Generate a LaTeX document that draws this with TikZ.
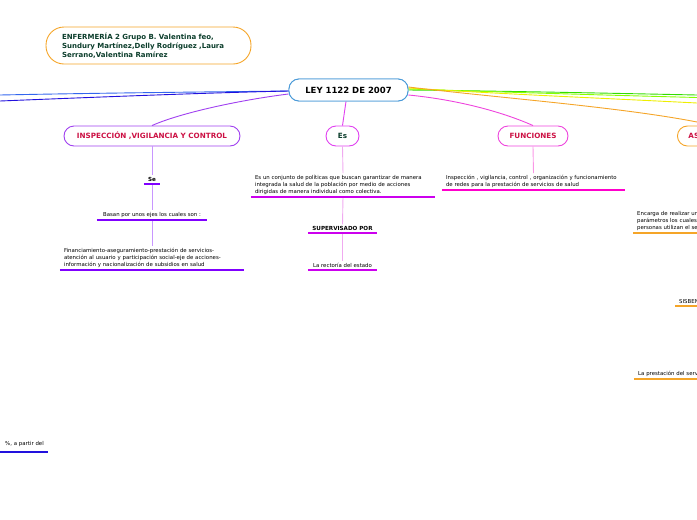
\documentclass[tikz,border=0pt]{standalone}
\usepackage{fontspec}
\setmainfont{DejaVu Sans}
\definecolor{cblue}{RGB}{74,154,216}
\definecolor{corange}{RGB}{245,165,40}
\definecolor{cpurple}{RGB}{160,64,240}
\definecolor{cpurpleul}{RGB}{128,0,255}
\definecolor{cpurplelt}{RGB}{200,150,255}
\definecolor{cmag}{RGB}{224,64,240}
\definecolor{cmagul}{RGB}{204,0,238}
\definecolor{cmaglt}{RGB}{240,170,240}
\definecolor{cpink}{RGB}{238,68,221}
\definecolor{cpinkul}{RGB}{255,0,204}
\definecolor{cpinklt}{RGB}{250,150,230}
\definecolor{ccrimson}{RGB}{204,17,68}
\definecolor{cgreen}{RGB}{11,61,43}
\definecolor{lblue}{RGB}{51,102,238}
\definecolor{dblue}{RGB}{34,17,221}
\definecolor{gr1}{RGB}{51,221,0}
\definecolor{gr2}{RGB}{136,255,0}
\definecolor{yel}{RGB}{238,238,0}
\begin{document}
\begin{tikzpicture}[x=1pt,y=-1pt,
  pill/.style={draw, rounded corners=10pt, line width=0.9pt, minimum height=20pt, inner xsep=6pt, fill=white, font=\fontsize{7.2}{8}\selectfont\bfseries},
  leaf/.style={font=\fontsize{5.4}{7}\selectfont, inner xsep=4pt, inner ysep=2pt},
  leafb/.style={leaf, font=\fontsize{5.6}{7}\selectfont\bfseries},
  ul/.style={line width=1.5pt},
  conn/.style={line width=0.9pt}]
\useasboundingbox (0,0) rectangle (697,520);
\clip (0,0) rectangle (697,520);

% author box
\node[draw=corange, rounded corners=18pt, line width=0.9pt, minimum width=205pt, minimum height=37pt,
      text width=173pt, align=left, inner xsep=16pt, text=cgreen,
      font=\fontsize{7}{9}\selectfont\bfseries] (auth) at (148.5,45.5)
  {ENFERMERÍA 2 Grupo B. Valentina feo,\\Sundury Martínez,Delly Rodríguez ,Laura\\Serrano,Valentina Ramírez};

% free ends of the connectors leaving the picture
\coordinate (L1) at (0,95);
\coordinate (L2) at (0,101);
\coordinate (R1) at (697,95);
\coordinate (R2) at (697,97.5);
\coordinate (R3) at (697,103);
\coordinate (R4) at (697,122);

\node[pill, draw=cblue, minimum width=119pt, minimum height=22pt, font=\fontsize{8.5}{9}\selectfont\bfseries] (c) at (348.5,90) {LEY 1122 DE 2007};

\node[pill, draw=cpurple, text=ccrimson, minimum width=176pt] (insp) at (152,136) {INSPECCIÓN ,VIGILANCIA Y CONTROL};
\node[pill, draw=cmag, text=cgreen, minimum width=33pt] (es) at (342.5,136) {Es};
\node[pill, draw=cpink, text=ccrimson, minimum width=70pt] (fun) at (533,136) {FUNCIONES};
\node[pill, draw=corange, text=ccrimson, inner xsep=11pt, anchor=west] (ase) at (677,136) {ASEGURAMIENTO};

\draw[conn, lblue] ([yshift=-1pt]c.west) .. controls (200,92) and (100,93) .. (L1);
\draw[conn, dblue] ([yshift=-1pt]c.west) .. controls (200,93) and (100,97) .. (L2);
\draw[conn, cpurple] ([yshift=-4pt]c.west) .. controls (240,100) and (180,113) .. (insp.north);
\draw[conn, cmag] (c.south -| 346,0) -- (es.north);
\draw[conn, cpink] ([yshift=-5pt]c.east) .. controls (460,100) and (505,113) .. (fun.north);
\draw[conn, gr1] ([yshift=0pt]c.east) .. controls (500,91) and (600,93) .. (R1);
\draw[conn, gr2] ([yshift=1pt]c.east) .. controls (500,92) and (600,95) .. (R2);
\draw[conn, yel] ([yshift=2pt]c.east) .. controls (500,94) and (600,98) .. (R3);
\draw[conn, corange] ([yshift=3pt]c.east) .. controls (500,98) and (620,107) .. (R4);

% redraw central node on top of connectors
\node[pill, draw=cblue, minimum width=119pt, minimum height=22pt, font=\fontsize{8.5}{9}\selectfont\bfseries] at (c) {LEY 1122 DE 2007};

% Inspeccion branch
\node[leafb, minimum width=16pt, anchor=south] (se) at (152,184) {Se};
\node[leaf, minimum width=110pt, anchor=south] (basan) at (152,220) {Basan por unos ejes los cuales son :};
\node[leaf, text width=176pt, align=left, anchor=south] (fin) at (152,270)
  {Financiamiento-aseguramiento-prestación de servicios-\\atención al usuario y participación social-eje de acciones-\\información y nacionalización de subsidios en salud};
\draw[conn, cpurplelt] (insp.south) -- (se.north);
\draw[conn, cpurplelt] (se.south) -- (basan.north);
\draw[conn, cpurplelt] (basan.south) -- (fin.north);
\draw[ul, cpurpleul] (se.south west) -- (se.south east);
\draw[ul, cpurpleul] (basan.south west) -- (basan.south east);
\draw[ul, cpurpleul] (fin.south west) -- (fin.south east);

% Es branch
\node[leaf, text width=176pt, align=left, anchor=south] (def) at (343,197)
  {Es un conjunto de políticas que buscan garantizar de manera\\integrada la salud de la población por medio de acciones\\dirigidas de manera individual como colectiva.};
\node[leafb, minimum width=69pt, anchor=south] (sup) at (342.5,233) {SUPERVISADO POR};
\node[leaf, minimum width=69pt, anchor=south] (rec) at (342.5,270) {La rectoría del estado};
\draw[conn, cmaglt] (es.south) -- (def.north);
\draw[conn, cmaglt] (def.south) -- (sup.north);
\draw[conn, cmaglt] (sup.south) -- (rec.north);
\draw[ul, cmagul] (def.south west) -- (def.south east);
\draw[ul, cmagul] (sup.south west) -- (sup.south east);
\draw[ul, cmagul] (rec.south west) -- (rec.south east);

% Funciones branch
\node[leaf, text width=175pt, align=left, anchor=south] (fdef) at (533.5,190)
  {Inspección , vigilancia, control , organización y funcionamiento\\de redes para la prestación de servicios de salud};
\draw[conn, cpinklt] (fun.south) -- (fdef.north);
\draw[ul, cpinkul] (fdef.south west) -- (fdef.south east);

% Aseguramiento branch (cut by the right edge)
\node[leaf, text width=170pt, align=left, anchor=south west] (enc) at (633,233)
  {Encarga de realizar un\\parámetros los cuales\\personas utilizan el se};
\node[leaf, text width=60pt, align=left, anchor=south west] (sis) at (675,306) {SISBEN};
\node[leaf, text width=170pt, align=left, anchor=south west] (pres) at (634,379) {La prestación del serv};
\draw[ul, corange] (enc.south west) -- (enc.south east);
\draw[ul, corange] (sis.south west) -- (sis.south east);
\draw[ul, corange] (pres.south west) -- (pres.south east);

% left bottom (cut by the left edge)
\node[leaf, text width=72pt, align=right, anchor=south east, inner ysep=5pt] (pct) at (48,452) {\%, a partir del};
\draw[ul, dblue] (pct.south west) -- (pct.south east);
\end{tikzpicture}
\end{document}
